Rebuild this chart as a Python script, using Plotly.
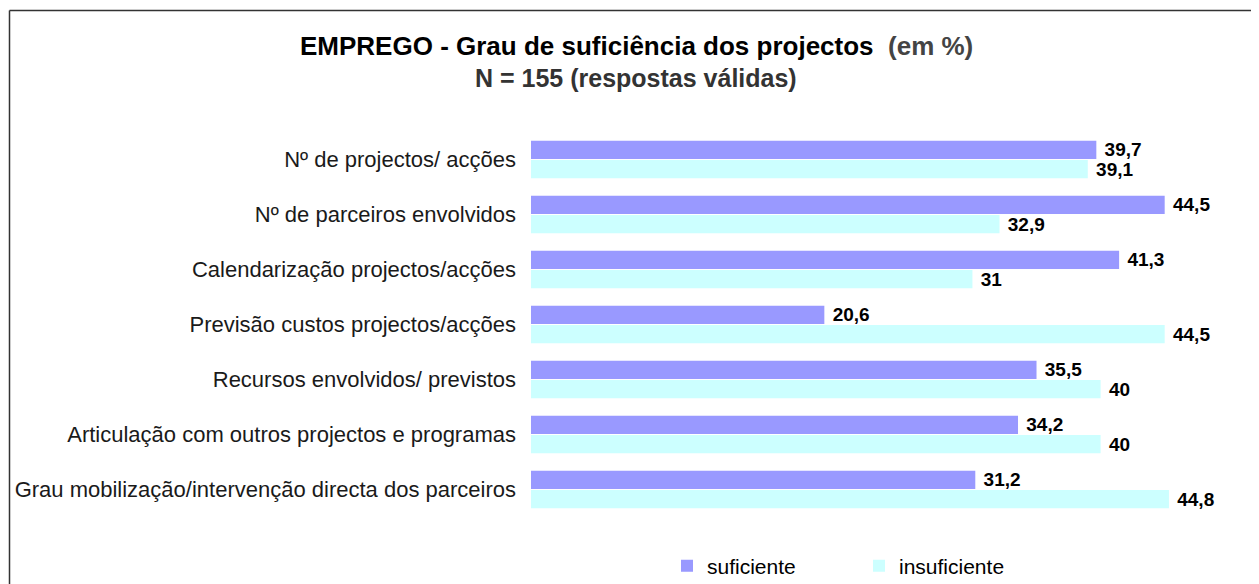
import plotly.graph_objects as go

categories = [
    "Nº de projectos/ acções",
    "Nº de parceiros envolvidos",
    "Calendarização projectos/acções",
    "Previsão custos projectos/acções",
    "Recursos envolvidos/ previstos",
    "Articulação com outros projectos e programas",
    "Grau mobilização/intervenção directa dos parceiros",
]
suficiente = [39.7, 44.5, 41.3, 20.6, 35.5, 34.2, 31.2]
insuficiente = [39.1, 32.9, 31, 44.5, 40, 40, 44.8]
series_names = ["suficiente", "insuficiente"]

OFF = 8  # page body margin
W, H = 1259 - OFF, 584 - OFF
L, R, T, B = 531 - OFF, 16, 132 - OFF, 67
PW, PH = W - L - R, H - T - B

def px(x):
    return (x - OFF - L) / PW

def py(y):
    return (H - B - (y - OFF)) / PH

FONT = "Liberation Sans, Arial, sans-serif"

fig = go.Figure()
for name, vals, col in [(series_names[0], suficiente, "#9999FF"),
                        (series_names[1], insuficiente, "#CCFFFF")]:
    fig.add_trace(go.Bar(
        y=categories, x=vals, name=name, orientation="h",
        marker=dict(color=col, line=dict(width=0)),
        texttemplate=" %{x}", textposition="outside", cliponaxis=False,
        constraintext="none",
        textfont=dict(family=FONT, size=19, color="#000000", weight="bold"),
    ))

fig.update_layout(
    width=W, height=H,
    margin=dict(l=L, r=R, t=T, b=B, autoexpand=False),
    paper_bgcolor="white", plot_bgcolor="white",
    separators=",.",
    barmode="group", bargap=0.3, bargroupgap=0.06,
    font=dict(family=FONT, color="#000000"),
    xaxis=dict(range=[0, 50], showgrid=False, showticklabels=False,
               zeroline=False, showline=False, ticks=""),
    yaxis=dict(autorange="reversed", showgrid=False, showline=False,
               ticks="", ticklabelstandoff=14,
               tickfont=dict(family=FONT, size=22, color="#1a1a1a")),
    showlegend=True,
    legend=dict(orientation="h", x=px(667), xanchor="left", y=py(566),
                yanchor="middle", entrywidth=147,
                font=dict(family=FONT, size=21, color="#000000")),
    annotations=[
        dict(text="<b>EMPREGO - Grau de suficiência dos projectos</b>  <b><span style='color:#444444'>(em %)</span></b>",
             xref="paper", yref="paper", x=px(636), y=py(46),
             xanchor="center", yanchor="middle", showarrow=False,
             font=dict(family=FONT, size=26, color="#000000")),
        dict(text="<b>N = 155 (respostas válidas)</b>",
             xref="paper", yref="paper", x=px(636), y=py(78),
             xanchor="center", yanchor="middle", showarrow=False,
             font=dict(family=FONT, size=25, color="#333333")),
    ],
    shapes=[
        dict(type="line", xref="paper", yref="paper",
             x0=px(9.5), x1=px(1270), y0=py(10.5), y1=py(10.5),
             line=dict(color="#333333", width=1.5)),
        dict(type="line", xref="paper", yref="paper",
             x0=px(9.5), x1=px(9.5), y0=py(10.5), y1=py(600),
             line=dict(color="#333333", width=1.5)),
    ],
)

fig.write_html("out.html")
